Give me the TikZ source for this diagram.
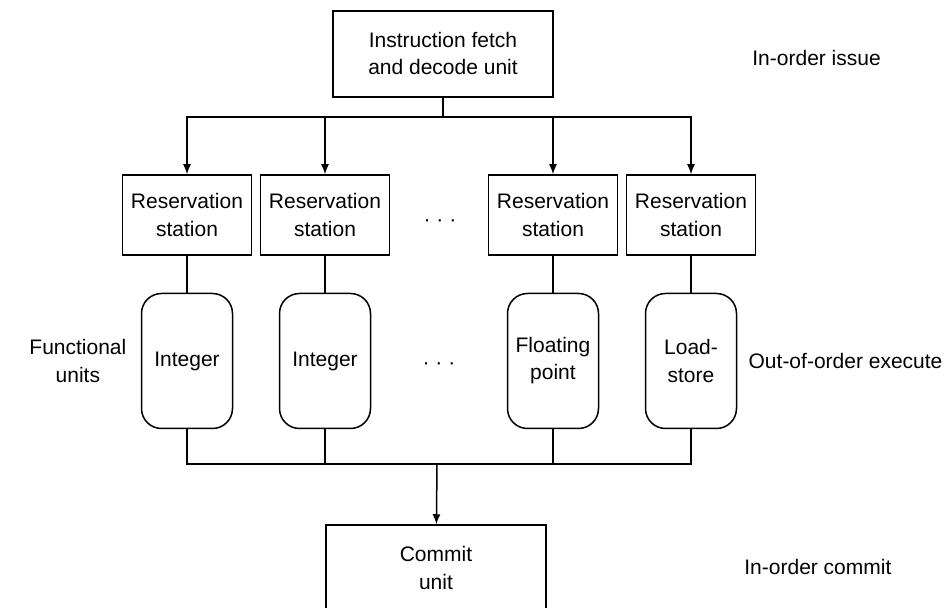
\documentclass[tikz,border=0pt]{standalone}
\usepackage{fontspec}
\setmainfont{Liberation Sans}
\usetikzlibrary{positioning,arrows.meta}

\begin{document}
\begin{tikzpicture}[
        x=0.5pt, y=-0.5pt,
        font=\fontsize{10.5pt}{13.5pt}\selectfont,
        unit/.style={rectangle, draw, line width=0.75pt, align=center, inner sep=0pt},
        wide/.style={unit, minimum width=110pt, minimum height=43pt},
        rsbox/.style={unit, minimum width=64.5pt, minimum height=40pt},
        fubox/.style={unit, rounded corners=10pt, minimum width=45.5pt, minimum height=67.5pt},
        note/.style={inner sep=0pt, align=center},
        wire/.style={line width=0.75pt},
        arr/.style={wire, -{Latex[length=5pt,width=4pt]}}
    ]
    \useasboundingbox (0,0) rectangle (944,608);
    \node[wide] (fetch) at (443,54) {Instruction fetch\\and decode unit};
    \node[rsbox] (rs1) at (187,215) {Reservation\\station};
    \node[rsbox] (rs2) at (325,215) {Reservation\\station};
    \node[rsbox] (rs3) at (553,215) {Reservation\\station};
    \node[rsbox] (rs4) at (691,215) {Reservation\\station};
    \node[fubox, below=18.5pt of rs1] (fu1) {Integer};
    \node[fubox, below=18.5pt of rs2] (fu2) {Integer};
    \node[fubox, below=18.5pt of rs3] (fu3) {Floating\\point};
    \node[fubox, below=18.5pt of rs4] (fu4) {Load-\\store};
    \node[wide] (commit) at (436,568) {Commit\\unit};
    \node[note] (dotsrs) at (440,223) {· · ·};
    \node[note] (dotsfu) at (439,366) {· · ·};
    % stage labels
    \node[note, left=7pt of fu1] (fulbl) {Functional\\units};
    \node[note, right=5.5pt of fu4] (exelbl) {Out-of-order execute};
    \node[note, anchor=west] (isslbl) at (752,58) {In-order issue};
    \node[note, anchor=west] (comlbl) at (744,567) {In-order commit};
    \coordinate (split) at (443,117);
    \coordinate (merge) at (437,464);
    \draw[wire] (fetch) -- (split);
    \foreach \n in {1,...,4} {
        \draw[arr] (split) -| (rs\n);
        \draw[wire] (rs\n) -- (fu\n);
        \draw[wire] (fu\n) |- (merge);
    }
    \draw[arr] (merge) -- (commit);
\end{tikzpicture}
\end{document}
